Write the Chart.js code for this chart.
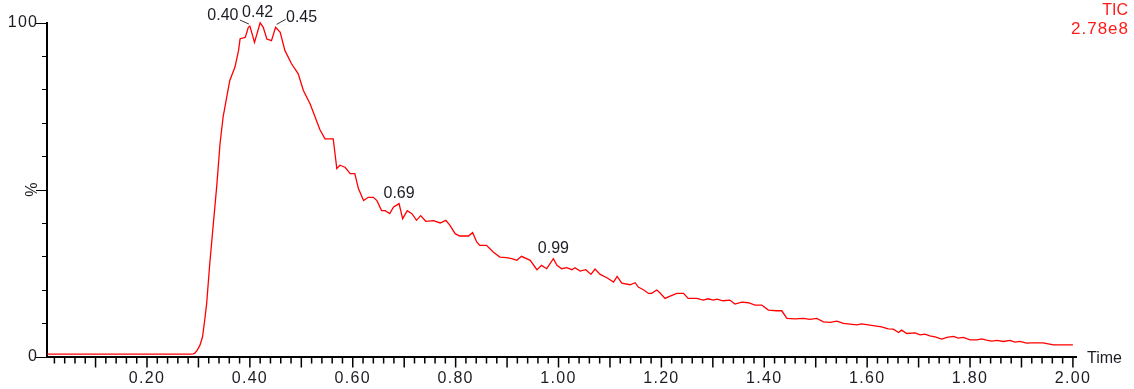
<!DOCTYPE html>
<html>
<head>
<meta charset="utf-8">
<script src="https://cdn.jsdelivr.net/npm/chart.js@4/dist/chart.umd.min.js"></script>
<style>
  html, body { margin: 0; padding: 0; background: #fff; }
  #c { display: block; }
</style>
</head>
<body>
<canvas id="c" width="1134" height="389"></canvas>
<script>
// Total ion chromatogram: retention time (min) vs relative intensity (%)
const times = [
  0.006, 0.05, 0.10, 0.15, 0.20, 0.25, 0.285, 0.290, 0.293, 0.298,
  0.303, 0.308, 0.313, 0.316, 0.322, 0.329, 0.336, 0.342, 0.348, 0.355,
  0.361, 0.371, 0.378, 0.381, 0.391, 0.397, 0.400, 0.409, 0.420, 0.426,
  0.433, 0.442, 0.450, 0.459, 0.468, 0.481, 0.494, 0.504, 0.517, 0.527,
  0.536, 0.546, 0.562, 0.569, 0.575, 0.585, 0.595, 0.604, 0.611, 0.621,
  0.630, 0.640, 0.647, 0.656, 0.663, 0.672, 0.679, 0.690, 0.697, 0.706,
  0.715, 0.724, 0.732, 0.742, 0.757, 0.770, 0.781, 0.789, 0.799, 0.808,
  0.825, 0.833, 0.841, 0.847, 0.860, 0.873, 0.886, 0.899, 0.909, 0.919,
  0.928, 0.945, 0.958, 0.967, 0.977, 0.990, 0.997, 1.006, 1.016, 1.026,
  1.032, 1.042, 1.053, 1.063, 1.071, 1.081, 1.094, 1.107, 1.114, 1.123,
  1.139, 1.149, 1.155, 1.165, 1.175, 1.181, 1.191, 1.197, 1.207, 1.217,
  1.230, 1.243, 1.252, 1.269, 1.281, 1.291, 1.301, 1.308, 1.320, 1.333,
  1.343, 1.356, 1.369, 1.382, 1.395, 1.408, 1.424, 1.434, 1.444, 1.460,
  1.476, 1.489, 1.502, 1.515, 1.528, 1.541, 1.554, 1.567, 1.580, 1.589,
  1.602, 1.615, 1.628, 1.641, 1.651, 1.661, 1.667, 1.677, 1.693, 1.703,
  1.712, 1.722, 1.732, 1.745, 1.755, 1.768, 1.777, 1.787, 1.800, 1.813,
  1.823, 1.832, 1.842, 1.852, 1.865, 1.878, 1.887, 1.897, 1.910, 1.920,
  1.942, 1.952, 1.962, 1.981, 2.000
];
const intensity = [
  0.7, 0.7, 0.7, 0.7, 0.7, 0.7, 0.7, 0.8, 1.0, 2.0,
  3.4, 5.9, 11.9, 15.9, 27.8, 39.8, 51.8, 63.8, 71.8, 77.7,
  82.7, 86.7, 91.7, 95.2, 95.6, 98.6, 99.0, 94.1, 100.0, 98.6,
  95.1, 94.6, 98.6, 97.1, 91.7, 87.7, 84.7, 79.7, 75.7, 71.7,
  68.0, 65.2, 65.2, 56.3, 57.3, 56.7, 54.8, 54.8, 50.3, 46.7,
  47.7, 47.7, 46.7, 43.7, 43.7, 42.8, 44.7, 45.8, 41.3, 43.7,
  42.8, 40.8, 42.2, 40.5, 40.7, 40.0, 40.8, 39.3, 36.8, 36.1,
  36.1, 37.1, 34.3, 33.3, 33.3, 31.3, 29.8, 29.6, 29.3, 28.8,
  30.0, 28.8, 26.0, 27.3, 26.3, 29.3, 27.3, 26.3, 26.6, 26.0,
  26.6, 25.6, 26.0, 24.6, 26.2, 24.6, 23.6, 22.3, 24.0, 22.0,
  21.5, 22.1, 20.8, 20.0, 18.9, 18.9, 19.9, 19.1, 17.4, 18.1,
  18.9, 18.9, 17.4, 17.4, 16.9, 17.3, 16.9, 17.2, 16.7, 16.9,
  15.7, 16.3, 16.1, 15.4, 15.4, 13.9, 13.7, 13.7, 11.4, 11.3,
  11.4, 11.1, 11.4, 10.4, 10.2, 10.6, 9.9, 9.7, 9.5, 9.8,
  9.5, 9.2, 8.9, 8.3, 8.2, 7.2, 7.9, 6.9, 7.1, 6.5,
  6.7, 6.2, 5.9, 5.2, 5.7, 6.0, 5.5, 5.7, 5.0, 5.0,
  5.3, 4.9, 4.6, 4.8, 4.5, 4.8, 4.3, 4.5, 4.0, 4.1,
  4.1, 3.8, 3.5, 3.5, 3.5
];

// Apex times annotated above the trace
const peakTimes = [0.40, 0.42, 0.45, 0.69, 0.99];

// Axis ticks
const xTickValues = Array.from({ length: 100 }, (_, i) => (i + 1) / 50);   // every 0.02 min
const xLabelTexts = ['0.20', '0.40', '0.60', '0.80', '1.00', '1.20', '1.40', '1.60', '1.80', '2.00'];
const yTickValues = [0, 10, 20, 30, 40, 50, 60, 70, 80, 90, 100];
const yLabelTexts = { 0: '0', 100: '100' };

const X_MIN = 0.0056, X_MAX = 2.006;
const FONT = "'Liberation Sans', Arial, sans-serif";
const TEXT = '#1c1c24';

const hundredths = v => Math.round(v * 100);

// Axis numerals are set slightly wide
const wideNumerals = {
  id: 'wideNumerals',
  beforeDraw(chart) { chart.ctx.letterSpacing = '1.3px'; }
};

const decorations = {
  id: 'decorations',
  afterDraw(chart) {
    const { ctx, chartArea, scales: { x, y } } = chart;
    ctx.save();
    ctx.letterSpacing = '0px';

    // x tick marks: long at every 0.1, short at every 0.02
    ctx.strokeStyle = '#000';
    ctx.lineWidth = 1.5;
    const xTop = chartArea.bottom + 1;
    x.ticks.forEach(t => {
      const px = x.getPixelForValue(t.value);
      const len = hundredths(t.value) % 10 === 0 ? 10 : 6;
      ctx.beginPath();
      ctx.moveTo(px, xTop);
      ctx.lineTo(px, xTop + len);
      ctx.stroke();
    });

    // y tick marks: long at 0, 50, 100
    ctx.lineWidth = 1;
    const yRight = chartArea.left - 1;
    y.ticks.forEach(t => {
      const py = Math.round(y.getPixelForValue(t.value)) + 0.5;
      const len = t.value % 50 === 0 ? 10 : 4;
      ctx.beginPath();
      ctx.moveTo(yRight, py);
      ctx.lineTo(yRight - len, py);
      ctx.stroke();
    });

    // "%" at mid height of the intensity axis
    ctx.fillStyle = TEXT;
    ctx.font = `16px ${FONT}`;
    ctx.textAlign = 'center';
    ctx.textBaseline = 'middle';
    ctx.save();
    ctx.translate(33, y.getPixelForValue(50));
    ctx.rotate(-Math.PI / 2);
    ctx.fillText('%', 0, 0);
    ctx.restore();

    // time axis title
    ctx.textAlign = 'left';
    ctx.fillText('Time', chartArea.right + 11, chartArea.bottom + 2);

    // trace name and base-peak intensity
    ctx.fillStyle = '#ff1a1a';
    ctx.textAlign = 'right';
    ctx.font = `16px ${FONT}`;
    ctx.fillText('TIC', 1128, 11);
    ctx.letterSpacing = '1px';
    ctx.font = `17px ${FONT}`;
    ctx.fillText('2.78e8', 1129, 29);
    ctx.letterSpacing = '0px';

    // apex labels (the crowded ones get a short leader)
    const placement = {
      '0.40': { dx: -27, dy: -10, lead: [-10, -6, -1, -2] },
      '0.42': { dx: -2.5, dy: -10 },
      '0.45': { dx: 26, dy: -9.5, lead: [1, -3, 10, -8] },
      '0.69': { dx: 0, dy: -10 },
      '0.99': { dx: 0, dy: -10 }
    };
    ctx.font = `16px ${FONT}`;
    ctx.textAlign = 'center';
    peakTimes.forEach(pt => {
      const idx = times.findIndex(t => Math.abs(t - pt) < 1e-9);
      const px = x.getPixelForValue(times[idx]);
      const py = y.getPixelForValue(intensity[idx]);
      const label = pt.toFixed(2);
      const p = placement[label];
      ctx.fillStyle = TEXT;
      ctx.fillText(label, px + p.dx, py + p.dy);
      if (p.lead) {
        ctx.strokeStyle = '#333';
        ctx.lineWidth = 1;
        ctx.beginPath();
        ctx.moveTo(px + p.lead[0], py + p.lead[1]);
        ctx.lineTo(px + p.lead[2], py + p.lead[3]);
        ctx.stroke();
      }
    });

    ctx.restore();
  }
};

new Chart(document.getElementById('c'), {
  type: 'line',
  data: {
    datasets: [{
      data: times.map((t, i) => ({ x: t, y: intensity[i] })),
      borderColor: '#ff0000',
      borderWidth: 1.3,
      pointRadius: 0,
      tension: 0,
      fill: false,
      clip: 6
    }]
  },
  options: {
    responsive: false,
    animation: false,
    devicePixelRatio: 1,
    layout: { padding: { top: 22.7, left: 0, right: 58, bottom: 0 } },
    plugins: { legend: { display: false }, tooltip: { enabled: false } },
    scales: {
      x: {
        type: 'linear',
        min: X_MIN,
        max: X_MAX,
        afterFit(s) { s.height = 32.5; },
        afterBuildTicks(s) { s.ticks = xTickValues.map(v => ({ value: v })); },
        grid: { display: true, drawOnChartArea: false, drawTicks: false },
        border: { display: true, color: '#000', width: 2 },
        ticks: {
          autoSkip: false,
          maxRotation: 0,
          minRotation: 0,
          padding: 12,
          color: TEXT,
          font: { family: FONT, size: 16 },
          callback(v) {
            const h = hundredths(v);
            return h % 20 === 0 ? xLabelTexts[h / 20 - 1] : '';
          }
        }
      },
      y: {
        type: 'linear',
        min: 0,
        max: 100,
        afterFit(s) { s.width = 47; },
        afterBuildTicks(s) { s.ticks = yTickValues.map(v => ({ value: v })); },
        grid: { display: true, drawOnChartArea: false, drawTicks: false },
        border: { display: true, color: '#000', width: 2 },
        ticks: {
          autoSkip: false,
          padding: 8.7,
          color: TEXT,
          font: { family: FONT, size: 16 },
          callback(v) { return yLabelTexts[v] !== undefined ? yLabelTexts[v] : ''; }
        }
      }
    }
  },
  plugins: [wideNumerals, decorations]
});
</script>
</body>
</html>
